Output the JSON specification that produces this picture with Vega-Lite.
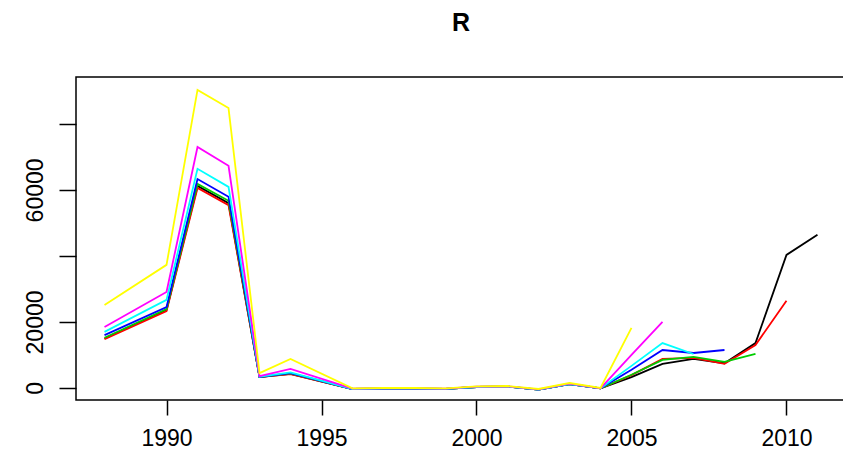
{
  "$schema": "https://vega.github.io/schema/vega-lite/v6.json",
  "autosize": {"type": "none"},
  "padding": {"left": 76, "top": 77, "right": 0, "bottom": 60},
  "width": 770,
  "height": 323,
  "background": "white",
  "title": {"text": "R", "fontSize": 25, "fontWeight": "bold", "font": "Liberation Sans", "anchor": "middle", "frame": "group", "offset": 21, "baseline": "alphabetic", "color": "#000"},
  "data": {"values": [
    {"series": "1", "year": 1988, "value": 15000},
    {"series": "1", "year": 1990, "value": 23600},
    {"series": "1", "year": 1991, "value": 61200},
    {"series": "1", "year": 1992, "value": 56000},
    {"series": "1", "year": 1993, "value": 3300},
    {"series": "1", "year": 1994, "value": 4300},
    {"series": "1", "year": 1996, "value": -300},
    {"series": "1", "year": 1997, "value": -200},
    {"series": "1", "year": 1998, "value": -200},
    {"series": "1", "year": 1999, "value": -300},
    {"series": "1", "year": 2000, "value": 300},
    {"series": "1", "year": 2001, "value": 400},
    {"series": "1", "year": 2002, "value": -500},
    {"series": "1", "year": 2003, "value": 1200},
    {"series": "1", "year": 2004, "value": -100},
    {"series": "1", "year": 2005, "value": 3300},
    {"series": "1", "year": 2006, "value": 7300},
    {"series": "1", "year": 2007, "value": 8800},
    {"series": "1", "year": 2008, "value": 7500},
    {"series": "1", "year": 2009, "value": 13600},
    {"series": "1", "year": 2010, "value": 40300},
    {"series": "1", "year": 2011, "value": 46400},

    {"series": "2", "year": 1988, "value": 14800},
    {"series": "2", "year": 1990, "value": 23300},
    {"series": "2", "year": 1991, "value": 60600},
    {"series": "2", "year": 1992, "value": 55400},
    {"series": "2", "year": 1993, "value": 3300},
    {"series": "2", "year": 1994, "value": 4200},
    {"series": "2", "year": 1996, "value": -300},
    {"series": "2", "year": 1997, "value": -200},
    {"series": "2", "year": 1998, "value": -200},
    {"series": "2", "year": 1999, "value": -300},
    {"series": "2", "year": 2000, "value": 300},
    {"series": "2", "year": 2001, "value": 400},
    {"series": "2", "year": 2002, "value": -500},
    {"series": "2", "year": 2003, "value": 1200},
    {"series": "2", "year": 2004, "value": -100},
    {"series": "2", "year": 2005, "value": 3900},
    {"series": "2", "year": 2006, "value": 8800},
    {"series": "2", "year": 2007, "value": 9100},
    {"series": "2", "year": 2008, "value": 7300},
    {"series": "2", "year": 2009, "value": 13000},
    {"series": "2", "year": 2010, "value": 26400},

    {"series": "3", "year": 1988, "value": 15200},
    {"series": "3", "year": 1990, "value": 23900},
    {"series": "3", "year": 1991, "value": 61800},
    {"series": "3", "year": 1992, "value": 56700},
    {"series": "3", "year": 1993, "value": 3300},
    {"series": "3", "year": 1994, "value": 4400},
    {"series": "3", "year": 1996, "value": -300},
    {"series": "3", "year": 1997, "value": -200},
    {"series": "3", "year": 1998, "value": -200},
    {"series": "3", "year": 1999, "value": -300},
    {"series": "3", "year": 2000, "value": 300},
    {"series": "3", "year": 2001, "value": 400},
    {"series": "3", "year": 2002, "value": -500},
    {"series": "3", "year": 2003, "value": 1200},
    {"series": "3", "year": 2004, "value": -100},
    {"series": "3", "year": 2005, "value": 4000},
    {"series": "3", "year": 2006, "value": 8500},
    {"series": "3", "year": 2007, "value": 9400},
    {"series": "3", "year": 2008, "value": 7900},
    {"series": "3", "year": 2009, "value": 10300},

    {"series": "4", "year": 1988, "value": 16000},
    {"series": "4", "year": 1990, "value": 24500},
    {"series": "4", "year": 1991, "value": 63300},
    {"series": "4", "year": 1992, "value": 57900},
    {"series": "4", "year": 1993, "value": 3300},
    {"series": "4", "year": 1994, "value": 4500},
    {"series": "4", "year": 1996, "value": -300},
    {"series": "4", "year": 1997, "value": -200},
    {"series": "4", "year": 1998, "value": -200},
    {"series": "4", "year": 1999, "value": -300},
    {"series": "4", "year": 2000, "value": 300},
    {"series": "4", "year": 2001, "value": 400},
    {"series": "4", "year": 2002, "value": -500},
    {"series": "4", "year": 2003, "value": 1200},
    {"series": "4", "year": 2004, "value": -100},
    {"series": "4", "year": 2005, "value": 5500},
    {"series": "4", "year": 2006, "value": 11500},
    {"series": "4", "year": 2007, "value": 10600},
    {"series": "4", "year": 2008, "value": 11500},

    {"series": "5", "year": 1988, "value": 17000},
    {"series": "5", "year": 1990, "value": 26700},
    {"series": "5", "year": 1991, "value": 66400},
    {"series": "5", "year": 1992, "value": 60900},
    {"series": "5", "year": 1993, "value": 3400},
    {"series": "5", "year": 1994, "value": 4700},
    {"series": "5", "year": 1996, "value": -300},
    {"series": "5", "year": 1997, "value": -200},
    {"series": "5", "year": 1998, "value": -200},
    {"series": "5", "year": 1999, "value": -300},
    {"series": "5", "year": 2000, "value": 300},
    {"series": "5", "year": 2001, "value": 400},
    {"series": "5", "year": 2002, "value": -500},
    {"series": "5", "year": 2003, "value": 1200},
    {"series": "5", "year": 2004, "value": -100},
    {"series": "5", "year": 2005, "value": 6700},
    {"series": "5", "year": 2006, "value": 13600},
    {"series": "5", "year": 2007, "value": 10300},

    {"series": "6", "year": 1988, "value": 18500},
    {"series": "6", "year": 1990, "value": 29100},
    {"series": "6", "year": 1991, "value": 73000},
    {"series": "6", "year": 1992, "value": 67300},
    {"series": "6", "year": 1993, "value": 3600},
    {"series": "6", "year": 1994, "value": 5800},
    {"series": "6", "year": 1996, "value": -200},
    {"series": "6", "year": 1997, "value": -100},
    {"series": "6", "year": 1998, "value": -100},
    {"series": "6", "year": 1999, "value": -200},
    {"series": "6", "year": 2000, "value": 400},
    {"series": "6", "year": 2001, "value": 500},
    {"series": "6", "year": 2002, "value": -400},
    {"series": "6", "year": 2003, "value": 1300},
    {"series": "6", "year": 2004, "value": -100},
    {"series": "6", "year": 2005, "value": 10000},
    {"series": "6", "year": 2006, "value": 20000},

    {"series": "7", "year": 1988, "value": 25100},
    {"series": "7", "year": 1990, "value": 37300},
    {"series": "7", "year": 1991, "value": 90300},
    {"series": "7", "year": 1992, "value": 84800},
    {"series": "7", "year": 1993, "value": 4500},
    {"series": "7", "year": 1994, "value": 8800},
    {"series": "7", "year": 1996, "value": -100},
    {"series": "7", "year": 1997, "value": 0},
    {"series": "7", "year": 1998, "value": 0},
    {"series": "7", "year": 1999, "value": -100},
    {"series": "7", "year": 2000, "value": 500},
    {"series": "7", "year": 2001, "value": 600},
    {"series": "7", "year": 2002, "value": -300},
    {"series": "7", "year": 2003, "value": 1500},
    {"series": "7", "year": 2004, "value": 0},
    {"series": "7", "year": 2005, "value": 18200}
  ]},
  "mark": {"type": "line", "strokeWidth": 1.8, "clip": true},
  "encoding": {
    "x": {
      "field": "year", "type": "quantitative",
      "scale": {"domain": [1987.08, 2011.92], "nice": false, "zero": false},
      "axis": {"values": [1990, 1995, 2000, 2005, 2010], "format": "d", "title": null, "grid": false, "domain": false,
        "tickSize": 15, "tickColor": "#000", "tickWidth": 1.5, "labelFontSize": 23, "labelPadding": 12,
        "labelColor": "#000", "labelFont": "Liberation Sans", "labelFlush": false, "labelOverlap": false}
    },
    "y": {
      "field": "value", "type": "quantitative",
      "scale": {"domain": [-3640, 94200], "nice": false, "zero": false},
      "axis": {"values": [0, 20000, 40000, 60000, 80000],
        "labelExpr": "datum.value == 40000 || datum.value == 80000 ? '' : format(datum.value, 'd')",
        "title": null, "grid": false, "domain": false,
        "tickSize": 17, "tickColor": "#000", "tickWidth": 1.5,
        "labelAngle": -90, "labelAlign": "center", "labelBaseline": "bottom", "labelPadding": 12,
        "labelFontSize": 23, "labelColor": "#000", "labelFont": "Liberation Sans", "labelFlush": false, "labelOverlap": false}
    },
    "color": {
      "field": "series", "type": "nominal",
      "scale": {"domain": ["1", "2", "3", "4", "5", "6", "7"],
        "range": ["#000000", "#FF0000", "#00CD00", "#0000FF", "#00FFFF", "#FF00FF", "#FFFF00"]},
      "legend": null
    }
  },
  "config": {"view": {"stroke": "#000", "strokeWidth": 1.5}}
}
